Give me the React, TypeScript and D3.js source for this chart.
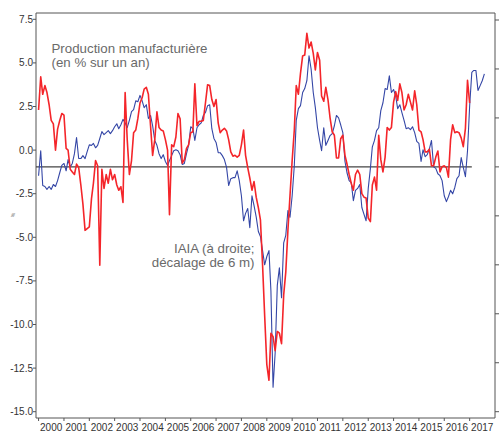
import React, { useRef, useEffect } from 'react';
import * as d3 from 'd3';

// monthly series, first point = January 2000
const production = [
  2.3, 4.2, 3.2, 3.7, 3.3, 2.6, 1.7, 1.5, 0.0, 1.2, 1.7, 2.1, // 2000
  2.0, 0.1, 0.0, -1.1, -1.25, -1.4, -0.8, -1.0, -2.0, -3.1, -4.6, -4.5, // 2001
  -4.4, -2.8, -1.9, -0.6, -0.9, -6.6, -1.1, -2.2, -1.4, -1.9, -1.1, -1.7, // 2002
  -1.4, -2.0, -2.3, -2.1, -3.0, 3.3, 0.6, -1.4, -0.6, 1.0, 1.15, 1.8, // 2003
  2.7, 3.0, 3.5, 3.6, 3.2, 1.4, -0.3, 0.6, 2.2, 1.3, 1.15, 1.1, // 2004
  0.6, 0.0, -3.7, 0.3, 0.2, 0.75, 2.1, 1.8, -0.75, -0.55, 0.1, 0.3, // 2005
  1.0, 1.05, 3.8, 1.4, 1.65, 1.65, 1.7, 2.7, 3.75, 3.7, 2.9, 2.5, // 2006
  2.9, 1.55, 1.0, 1.15, 1.25, 1.1, 0.6, -0.1, -0.35, -0.3, -0.4, -0.3, // 2007
  0.3, 1.15, -0.3, -1.0, -1.6, -2.3, -1.8, -2.7, -3.3, -4.0, -6.6, -9.5, // 2008
  -12.3, -13.2, -10.5, -10.7, -11.5, -10.4, -10.5, -11.1, -8.3, -7.0, -4.6, -2.6, // 2009
  -0.6, 1.15, 3.7, 3.2, 4.4, 5.4, 5.45, 6.7, 5.85, 6.2, 5.55, 4.6, // 2010
  5.6, 5.15, 3.1, 2.8, 3.6, 2.9, 1.85, 1.05, 0.85, -0.45, -0.45, 0.65, // 2011
  0.85, -0.3, -0.8, -1.4, -1.9, -2.3, -1.4, -1.15, -1.4, -2.5, -2.7, -2.75, // 2012
  -3.9, -4.1, -2.0, -1.55, -2.3, 0.85, -0.55, -1.25, -0.4, 1.3, 1.15, 1.3, // 2013
  2.75, 3.35, 2.85, 3.8, 3.3, 2.3, 2.6, 3.2, 2.75, 2.3, 3.4, 2.6, // 2014
  1.15, 1.05, 0.6, -0.1, -0.1, 0.05, -0.9, -0.9, -0.4, -0.05, -1.25, -0.95, // 2015
  -0.9, -1.0, -1.55, 0.6, 1.45, 1.0, 1.05, 1.0, 0.7, 0.2, 1.25, 4.0, // 2016
  2.7, // 2017
];

// IAIA, right axis, shifted 6 months
const iaia = [
  -0.18, 0.33, -0.38, -0.4, -0.46, -0.4, -0.46, -0.36, -0.4, -0.28, -0.12, 0.03,
  0.07, -0.08, 0.15, 0.0, 0.07, 0.27, 0.6, 0.17, 0.17, 0.23, 0.17, 0.31,
  0.45, 0.44, 0.48, 0.39, 0.44, 0.58, 0.72, 0.66, 0.7, 0.74, 0.68, 0.74,
  0.82, 0.88, 0.78, 0.86, 0.97, 0.9, 0.8, 0.95, 1.13, 1.17, 1.35, 1.33,
  1.46, 1.35, 1.21, 1.27, 0.99, 1.05, 0.84, 0.54, 0.44, 0.27, 0.17, 0.25,
  0.11, 0.03, 0.13, 0.23, 0.33, 0.35, 0.33, 0.25, 0.05, 0.07, 0.27, 0.44,
  0.82, 0.78, 0.54, 0.8, 0.86, 0.9, 1.05, 1.11, 1.25, 1.27, 0.78, 0.58,
  0.5, 0.29, 0.29, 0.23, 0.15, -0.01, -0.38, -0.24, -0.22, -0.22, -0.08, -0.28,
  -0.59, -1.1, -0.95, -0.85, -1.24, -0.59, -0.79, -1.02, -1.32, -1.42, -1.71, -2.0,
  -1.83, -1.71, -2.53, -4.5, -3.8, -2.42, -2.06, -2.67, -1.55, -1.4, -0.89, -1.03,
  -0.59, 0.03, 0.95, 1.19, 1.25, 1.52, 1.6, 1.76, 2.27, 2.0, 1.52, 1.21,
  0.8, 0.54, 0.33, 0.8, 0.44, 0.54, 0.64, 0.68, 0.84, 1.05, 1.0, 0.86,
  0.7, 0.11, -0.12, -0.28, -0.32, -0.69, -0.48, -0.44, -0.36, -0.83, -0.97, -1.1,
  -0.44, -0.03, 0.41, 0.54, 0.74, 0.8, 1.15, 1.31, 1.6, 1.58, 1.86, 1.52,
  1.58, 1.44, 1.19, 1.27, 1.11, 0.95, 0.78, 0.8, 0.76, 0.82, 0.7, 0.52,
  0.48, 0.11, 0.35, 0.21, 0.25, 0.37, 0.54, 0.0, -0.03, -0.14, -0.18, -0.28,
  -0.59, -0.71, -0.61, -0.48, -0.55, -0.42, -0.24, -0.18, 0.19, -0.01, -0.2, 0.33,
  1.25, 1.93, 1.97, 1.97, 1.56, 1.66, 1.76, 1.9,
];

const yearLabels = ['2000', '2001', '2002', '2003', '2004', '2005', '2006', '2007', '2008',
  '2009', '2010', '2011', '2012', '2013', '2014', '2015', '2016', '2017'];
const leftTicks = [7.5, 5, 2.5, 0, -2.5, -5, -7.5, -10, -12.5, -15];
const rightTicks = [3, 2, 1, 0, -1, -2, -3, -4, -5];

const W = 500;
const H = 432;
const margin = { top: 13, right: 5, bottom: 14, left: 36 };

const monthDate = (i: number) => new Date(2000, i, 1);

const App: React.FC = () => {
  const svgRef = useRef<SVGSVGElement>(null);

  useEffect(() => {
    if (!svgRef.current) return;
    const svg = d3.select(svgRef.current);
    svg.selectAll('*').remove();

    const left = margin.left;
    const right = W - margin.right;
    const top = margin.top;
    const bottom = H - margin.bottom;

    const x = d3.scaleTime()
      .domain([new Date(1999, 10, 25), new Date(2018, 0, 1)])
      .range([left, right]);
    const yL = d3.scaleLinear().domain([-15, 7.5]).range([411.7, 19.3]);
    const yR = d3.scaleLinear().domain([-5, 3]).range([411.7, 20]);

    const axisColor = '#555';
    const tickFont = "'Liberation Sans Narrow', 'Liberation Sans', Arial, sans-serif";

    // frame
    svg.append('line').attr('x1', left).attr('x2', right).attr('y1', top).attr('y2', top)
      .attr('stroke', axisColor).attr('stroke-width', 1);
    svg.append('line').attr('x1', left).attr('x2', left).attr('y1', top).attr('y2', bottom)
      .attr('stroke', axisColor).attr('stroke-width', 1);
    svg.append('line').attr('x1', right).attr('x2', right).attr('y1', top).attr('y2', bottom)
      .attr('stroke', axisColor).attr('stroke-width', 1);
    svg.append('line').attr('x1', left).attr('x2', right).attr('y1', bottom).attr('y2', bottom)
      .attr('stroke', axisColor).attr('stroke-width', 1);

    // left axis
    const gl = svg.append('g');
    leftTicks.forEach(v => {
      gl.append('line').attr('x1', left - 3).attr('x2', left).attr('y1', yL(v)).attr('y2', yL(v))
        .attr('stroke', axisColor);
      gl.append('text').attr('x', left - 3).attr('y', yL(v)).attr('dy', '0.35em')
        .attr('text-anchor', 'end').attr('font-family', tickFont).attr('font-size', 10)
        .attr('fill', '#333').text(v.toFixed(1));
    });
    svg.append('text').attr('transform', `translate(15,215) rotate(-90)`)
      .attr('font-family', tickFont).attr('font-size', 5).attr('fill', '#555')
      .attr('text-anchor', 'middle').text('%');

    // right axis (labels fall outside the picture)
    rightTicks.forEach(v => {
      svg.append('line').attr('x1', right).attr('x2', right + 4).attr('y1', yR(v)).attr('y2', yR(v))
        .attr('stroke', axisColor);
    });

    // bottom axis
    yearLabels.forEach(label => {
      const yr = +label;
      const xt = x(new Date(yr, 0, 1));
      svg.append('line').attr('x1', xt).attr('x2', xt).attr('y1', bottom).attr('y2', bottom + 3)
        .attr('stroke', axisColor);
      svg.append('text').attr('x', x(new Date(yr, 6, 1))).attr('y', 431)
        .attr('text-anchor', 'middle').attr('font-family', tickFont).attr('font-size', 10)
        .attr('fill', '#333').text(label);
    });

    // reference line
    svg.append('line')
      .attr('x1', left).attr('x2', x(monthDate(production.length)))
      .attr('y1', yR(0)).attr('y2', yR(0))
      .attr('stroke', '#444').attr('stroke-width', 1.3);

    const redLine = d3.line<number>().x((d, i) => x(monthDate(i))).y(d => yL(d));
    const blueLine = d3.line<number>().x((d, i) => x(monthDate(i))).y(d => yR(d));

    svg.append('path').datum(iaia).attr('d', blueLine)
      .attr('fill', 'none').attr('stroke', '#3446a6').attr('stroke-width', 1.1)
      .attr('stroke-linejoin', 'round');
    svg.append('path').datum(production).attr('d', redLine)
      .attr('fill', 'none').attr('stroke', '#f4252a').attr('stroke-width', 1.6)
      .attr('stroke-linejoin', 'round');

    // annotations
    const noteFont = "'Liberation Sans', Arial, sans-serif";
    const note1 = svg.append('text').attr('font-family', noteFont).attr('font-size', 13.3)
      .attr('fill', '#6a6a6a');
    note1.append('tspan').attr('x', 51.5).attr('y', 52.5).text('Production manufacturière');
    note1.append('tspan').attr('x', 51.5).attr('y', 67.2).text('(en % sur un an)');

    const note2 = svg.append('text').attr('font-family', noteFont).attr('font-size', 13.3)
      .attr('fill', '#6a6a6a').attr('text-anchor', 'end');
    note2.append('tspan').attr('x', 254.5).attr('y', 252.5).text('IAIA (à droite;');
    note2.append('tspan').attr('x', 254.5).attr('y', 267.2).text('décalage de 6 m)');
  }, []);

  return (
    <svg ref={svgRef} width={W} height={H}
      style={{ position: 'absolute', left: 0, top: 0, background: '#fff' }} />
  );
};

export default App;
